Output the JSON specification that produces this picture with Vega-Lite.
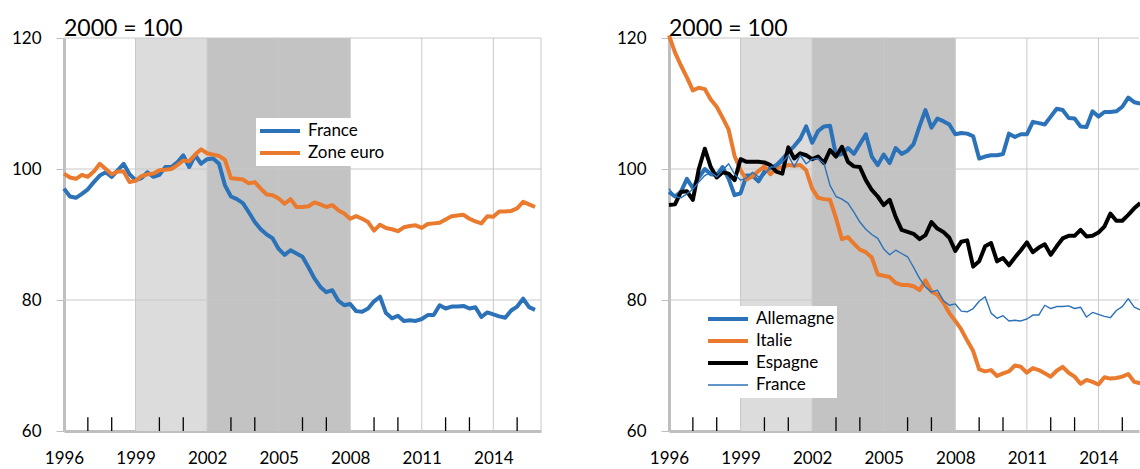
{
  "$schema": "https://vega.github.io/schema/vega-lite/v6.json",
  "background": "white",
  "padding": {"left": 11, "top": 18, "right": 0, "bottom": 0},
  "spacing": 74,
  "config": {
    "font": "Lato",
    "view": {"stroke": null},
    "axis": {"labelFont": "Lato", "labelFontSize": 17, "labelColor": "#000000", "domainColor": "#bfbfbf", "domainWidth": 3, "grid": false, "tickColor": "#bfbfbf", "title": null},
    "title": {"anchor": "start", "frame": "group", "font": "Lato", "fontSize": 23, "fontWeight": "normal", "color": "#000000", "offset": -12},
    "legend": {"orient": "none", "title": null, "symbolType": "stroke", "symbolSize": 1600, "labelFont": "Lato", "labelFontSize": 17, "labelColor": "#000000", "fillColor": "white", "padding": 2, "clipHeight": 22, "rowPadding": 0, "labelOffset": 6}
  },
  "datasets": {
    "series": [
      {"t": 1996, "France": 97.0, "Zone euro": 99.3, "Allemagne": 96.5, "Italie": 120.4, "Espagne": 94.5},
      {"t": 1996.25, "France": 95.8, "Zone euro": 98.7, "Allemagne": 95.8, "Italie": 117.8, "Espagne": 94.6},
      {"t": 1996.5, "France": 95.6, "Zone euro": 98.5, "Allemagne": 96.5, "Italie": 115.8, "Espagne": 96.5},
      {"t": 1996.75, "France": 96.2, "Zone euro": 99.1, "Allemagne": 98.5, "Italie": 114.0, "Espagne": 96.6},
      {"t": 1997, "France": 96.9, "Zone euro": 98.8, "Allemagne": 97.1, "Italie": 112.0, "Espagne": 95.3},
      {"t": 1997.25, "France": 98.0, "Zone euro": 99.6, "Allemagne": 98.7, "Italie": 112.4, "Espagne": 100.0},
      {"t": 1997.5, "France": 99.0, "Zone euro": 100.8, "Allemagne": 100.0, "Italie": 112.2, "Espagne": 103.1},
      {"t": 1997.75, "France": 99.5, "Zone euro": 100.0, "Allemagne": 99.2, "Italie": 110.6, "Espagne": 100.3},
      {"t": 1998, "France": 98.8, "Zone euro": 99.2, "Allemagne": 99.1, "Italie": 109.5, "Espagne": 98.7},
      {"t": 1998.25, "France": 99.8, "Zone euro": 99.6, "Allemagne": 100.3, "Italie": 107.8, "Espagne": 99.5},
      {"t": 1998.5, "France": 100.8, "Zone euro": 99.6, "Allemagne": 98.5, "Italie": 106.0, "Espagne": 99.3},
      {"t": 1998.75, "France": 99.2, "Zone euro": 98.0, "Allemagne": 96.0, "Italie": 102.0, "Espagne": 98.3},
      {"t": 1999, "France": 98.3, "Zone euro": 98.2, "Allemagne": 96.3, "Italie": 99.8, "Espagne": 101.5},
      {"t": 1999.25, "France": 98.6, "Zone euro": 98.9, "Allemagne": 99.0, "Italie": 98.4, "Espagne": 101.1},
      {"t": 1999.5, "France": 99.5, "Zone euro": 99.2, "Allemagne": 99.0, "Italie": 98.9, "Espagne": 101.1},
      {"t": 1999.75, "France": 98.8, "Zone euro": 99.3, "Allemagne": 98.1, "Italie": 99.7, "Espagne": 101.1},
      {"t": 2000, "France": 99.1, "Zone euro": 99.8, "Allemagne": 99.6, "Italie": 100.4, "Espagne": 101.0},
      {"t": 2000.25, "France": 100.3, "Zone euro": 99.9, "Allemagne": 100.1, "Italie": 99.2, "Espagne": 100.6},
      {"t": 2000.5, "France": 100.3, "Zone euro": 100.0, "Allemagne": 100.6, "Italie": 100.1, "Espagne": 99.6},
      {"t": 2000.75, "France": 101.0, "Zone euro": 100.6, "Allemagne": 101.5, "Italie": 100.3, "Espagne": 99.3},
      {"t": 2001, "France": 102.1, "Zone euro": 101.3, "Allemagne": 102.6, "Italie": 100.6, "Espagne": 103.3},
      {"t": 2001.25, "France": 100.3, "Zone euro": 101.2, "Allemagne": 103.5, "Italie": 100.5, "Espagne": 101.6},
      {"t": 2001.5, "France": 102.1, "Zone euro": 102.2, "Allemagne": 104.6, "Italie": 100.6, "Espagne": 102.4},
      {"t": 2001.75, "France": 100.8, "Zone euro": 103.0, "Allemagne": 106.5, "Italie": 99.8, "Espagne": 102.1},
      {"t": 2002, "France": 101.5, "Zone euro": 102.4, "Allemagne": 104.0, "Italie": 97.0, "Espagne": 101.5},
      {"t": 2002.25, "France": 101.6, "Zone euro": 102.2, "Allemagne": 105.8, "Italie": 95.6, "Espagne": 101.9},
      {"t": 2002.5, "France": 100.8, "Zone euro": 102.0, "Allemagne": 106.5, "Italie": 95.4, "Espagne": 100.9},
      {"t": 2002.75, "France": 97.5, "Zone euro": 101.4, "Allemagne": 106.6, "Italie": 95.3, "Espagne": 102.9},
      {"t": 2003, "France": 95.8, "Zone euro": 98.6, "Allemagne": 102.1, "Italie": 92.5, "Espagne": 101.9},
      {"t": 2003.25, "France": 95.4, "Zone euro": 98.5, "Allemagne": 102.3, "Italie": 89.3, "Espagne": 103.4},
      {"t": 2003.5, "France": 94.8, "Zone euro": 98.4, "Allemagne": 103.2, "Italie": 89.6, "Espagne": 101.1},
      {"t": 2003.75, "France": 93.4, "Zone euro": 97.8, "Allemagne": 102.3, "Italie": 88.6, "Espagne": 100.4},
      {"t": 2004, "France": 91.9, "Zone euro": 98.0, "Allemagne": 103.8, "Italie": 87.7, "Espagne": 100.3},
      {"t": 2004.25, "France": 90.8, "Zone euro": 97.0, "Allemagne": 105.3, "Italie": 87.3, "Espagne": 98.3},
      {"t": 2004.5, "France": 90.0, "Zone euro": 96.1, "Allemagne": 101.9, "Italie": 86.5, "Espagne": 96.8},
      {"t": 2004.75, "France": 89.4, "Zone euro": 96.0, "Allemagne": 100.6, "Italie": 83.9, "Espagne": 95.8},
      {"t": 2005, "France": 87.8, "Zone euro": 95.5, "Allemagne": 102.2, "Italie": 83.7, "Espagne": 94.5},
      {"t": 2005.25, "France": 86.9, "Zone euro": 94.7, "Allemagne": 100.9, "Italie": 83.5, "Espagne": 95.3},
      {"t": 2005.5, "France": 87.6, "Zone euro": 95.4, "Allemagne": 103.2, "Italie": 82.6, "Espagne": 92.7},
      {"t": 2005.75, "France": 87.1, "Zone euro": 94.2, "Allemagne": 102.3, "Italie": 82.3, "Espagne": 90.7},
      {"t": 2006, "France": 86.6, "Zone euro": 94.2, "Allemagne": 102.8, "Italie": 82.3, "Espagne": 90.4},
      {"t": 2006.25, "France": 85.0, "Zone euro": 94.3, "Allemagne": 103.8, "Italie": 82.1, "Espagne": 90.1},
      {"t": 2006.5, "France": 83.3, "Zone euro": 94.9, "Allemagne": 106.5, "Italie": 81.5, "Espagne": 89.3},
      {"t": 2006.75, "France": 82.0, "Zone euro": 94.6, "Allemagne": 109.0, "Italie": 83.0, "Espagne": 89.9},
      {"t": 2007, "France": 81.2, "Zone euro": 94.2, "Allemagne": 106.3, "Italie": 81.3, "Espagne": 91.9},
      {"t": 2007.25, "France": 81.5, "Zone euro": 94.5, "Allemagne": 107.7, "Italie": 80.8, "Espagne": 90.9},
      {"t": 2007.5, "France": 79.9, "Zone euro": 93.7, "Allemagne": 107.3, "Italie": 79.6, "Espagne": 90.4},
      {"t": 2007.75, "France": 79.2, "Zone euro": 93.2, "Allemagne": 106.8, "Italie": 78.0, "Espagne": 89.5},
      {"t": 2008, "France": 79.4, "Zone euro": 92.4, "Allemagne": 105.3, "Italie": 76.8, "Espagne": 87.5},
      {"t": 2008.25, "France": 78.3, "Zone euro": 92.8, "Allemagne": 105.5, "Italie": 75.5, "Espagne": 88.9},
      {"t": 2008.5, "France": 78.2, "Zone euro": 92.4, "Allemagne": 105.4, "Italie": 73.8, "Espagne": 89.1},
      {"t": 2008.75, "France": 78.7, "Zone euro": 91.9, "Allemagne": 105.0, "Italie": 72.2, "Espagne": 85.1},
      {"t": 2009, "France": 79.8, "Zone euro": 90.6, "Allemagne": 101.6, "Italie": 69.4, "Espagne": 85.9},
      {"t": 2009.25, "France": 80.5, "Zone euro": 91.5, "Allemagne": 101.9, "Italie": 69.1, "Espagne": 88.2},
      {"t": 2009.5, "France": 78.0, "Zone euro": 91.0, "Allemagne": 102.1, "Italie": 69.3, "Espagne": 88.7},
      {"t": 2009.75, "France": 77.2, "Zone euro": 90.8, "Allemagne": 102.1, "Italie": 68.4, "Espagne": 85.9},
      {"t": 2010, "France": 77.6, "Zone euro": 90.5, "Allemagne": 102.3, "Italie": 68.8, "Espagne": 86.4},
      {"t": 2010.25, "France": 76.8, "Zone euro": 91.1, "Allemagne": 105.4, "Italie": 69.1, "Espagne": 85.3},
      {"t": 2010.5, "France": 76.9, "Zone euro": 91.3, "Allemagne": 104.9, "Italie": 70.0, "Espagne": 86.5},
      {"t": 2010.75, "France": 76.8, "Zone euro": 91.4, "Allemagne": 105.3, "Italie": 69.8, "Espagne": 87.6},
      {"t": 2011, "France": 77.1, "Zone euro": 91.0, "Allemagne": 105.3, "Italie": 68.9, "Espagne": 88.8},
      {"t": 2011.25, "France": 77.7, "Zone euro": 91.6, "Allemagne": 107.2, "Italie": 69.6, "Espagne": 87.3},
      {"t": 2011.5, "France": 77.7, "Zone euro": 91.7, "Allemagne": 107.0, "Italie": 69.3, "Espagne": 88.0},
      {"t": 2011.75, "France": 79.2, "Zone euro": 91.8, "Allemagne": 106.8, "Italie": 68.8, "Espagne": 88.5},
      {"t": 2012, "France": 78.7, "Zone euro": 92.3, "Allemagne": 108.0, "Italie": 68.3, "Espagne": 86.9},
      {"t": 2012.25, "France": 79.0, "Zone euro": 92.8, "Allemagne": 109.2, "Italie": 69.2, "Espagne": 88.2},
      {"t": 2012.5, "France": 79.0, "Zone euro": 92.9, "Allemagne": 109.0, "Italie": 69.8, "Espagne": 89.4},
      {"t": 2012.75, "France": 79.1, "Zone euro": 93.0, "Allemagne": 107.8, "Italie": 68.9, "Espagne": 89.8},
      {"t": 2013, "France": 78.7, "Zone euro": 92.4, "Allemagne": 107.7, "Italie": 68.3, "Espagne": 89.8},
      {"t": 2013.25, "France": 78.9, "Zone euro": 92.0, "Allemagne": 106.5, "Italie": 67.2, "Espagne": 90.7},
      {"t": 2013.5, "France": 77.4, "Zone euro": 91.7, "Allemagne": 106.4, "Italie": 67.8, "Espagne": 89.7},
      {"t": 2013.75, "France": 78.1, "Zone euro": 92.8, "Allemagne": 108.8, "Italie": 67.5, "Espagne": 89.8},
      {"t": 2014, "France": 77.8, "Zone euro": 92.7, "Allemagne": 108.0, "Italie": 67.1, "Espagne": 90.3},
      {"t": 2014.25, "France": 77.5, "Zone euro": 93.5, "Allemagne": 108.7, "Italie": 68.2, "Espagne": 91.2},
      {"t": 2014.5, "France": 77.3, "Zone euro": 93.5, "Allemagne": 108.7, "Italie": 68.0, "Espagne": 93.2},
      {"t": 2014.75, "France": 78.4, "Zone euro": 93.6, "Allemagne": 108.8, "Italie": 68.1, "Espagne": 92.1},
      {"t": 2015, "France": 79.0, "Zone euro": 94.0, "Allemagne": 109.5, "Italie": 68.3, "Espagne": 92.1},
      {"t": 2015.25, "France": 80.2, "Zone euro": 95.0, "Allemagne": 110.9, "Italie": 68.7, "Espagne": 93.0},
      {"t": 2015.5, "France": 78.9, "Zone euro": 94.6, "Allemagne": 110.2, "Italie": 67.5, "Espagne": 94.0},
      {"t": 2015.75, "France": 78.5, "Zone euro": 94.2, "Allemagne": 110.0, "Italie": 67.3, "Espagne": 94.8}
    ],
    "zones": [
      {"debut": 1999, "fin": 2002, "zone": "a"},
      {"debut": 2002, "fin": 2008, "zone": "b"}
    ],
    "gridy": [{"v": 80}, {"v": 100}, {"v": 120}],
    "ticks": [{"an": 1997}, {"an": 1998}, {"an": 2000}, {"an": 2001}, {"an": 2003}, {"an": 2004}, {"an": 2006}, {"an": 2007}, {"an": 2009}, {"an": 2010}, {"an": 2012}, {"an": 2013}, {"an": 2015}]
  },
  "hconcat": [
    {
      "width": 477,
      "height": 393,
      "title": {"text": "2000 = 100"},
      "layer": [
        {
          "data": {"name": "zones"},
          "mark": {"type": "rect"},
          "encoding": {
            "x": {"field": "debut", "type": "quantitative"},
            "x2": {"field": "fin"},
            "y": {"datum": 60, "type": "quantitative"},
            "y2": {"datum": 120},
            "fill": {"field": "zone", "type": "nominal", "scale": {"domain": ["a", "b"], "range": ["#dcdcdc", "#c3c3c3"]}, "legend": null}
          }
        },
        {
          "data": {"values": [{"an": 1999}, {"an": 2002}, {"an": 2005}, {"an": 2008}, {"an": 2011}, {"an": 2014}, {"an": 2016}]},
          "mark": {"type": "rule", "color": "#c8c8c8", "strokeWidth": 1},
          "encoding": {"x": {"field": "an", "type": "quantitative"}, "y": {"datum": 60, "type": "quantitative"}, "y2": {"datum": 120}}
        },
        {
          "data": {"name": "gridy"},
          "mark": {"type": "rule", "color": "#c8c8c8", "strokeWidth": 1},
          "encoding": {"y": {"field": "v", "type": "quantitative"}, "x": {"datum": 1996, "type": "quantitative"}, "x2": {"datum": 2016}}
        },
        {
          "data": {"name": "ticks"},
          "mark": {"type": "rule", "color": "#000000", "strokeWidth": 1.3},
          "encoding": {"x": {"field": "an", "type": "quantitative"}, "y": {"datum": 60, "type": "quantitative"}, "y2": {"datum": 62.1}}
        },
        {
          "data": {"name": "series"},
          "transform": [{"fold": ["France", "Zone euro"], "as": ["pays", "v"]}],
          "mark": {"type": "line", "strokeWidth": 4, "strokeJoin": "round"},
          "encoding": {
            "x": {"field": "t", "type": "quantitative", "scale": {"domain": [1996, 2016], "nice": false, "zero": false},
              "axis": {"values": [1996, 1999, 2002, 2005, 2008, 2011, 2014], "format": "d", "tickSize": 0, "labelPadding": 19, "labelFlush": false, "labelOverlap": false}},
            "y": {"field": "v", "type": "quantitative", "scale": {"domain": [60, 120], "nice": false, "zero": false},
              "axis": {"values": [60, 80, 100, 120], "tickSize": 8, "labelPadding": 15}},
            "color": {"field": "pays", "type": "nominal", "scale": {"domain": ["France", "Zone euro"], "range": ["#2B72B8", "#E97A2E"]},
              "legend": {"legendX": 192, "legendY": 80, "symbolStrokeWidth": 4}}
          }
        }
      ]
    },
    {
      "width": 470,
      "height": 393,
      "title": {"text": "2000 = 100"},
      "layer": [
        {
          "data": {"name": "zones"},
          "mark": {"type": "rect"},
          "encoding": {
            "x": {"field": "debut", "type": "quantitative"},
            "x2": {"field": "fin"},
            "y": {"datum": 60, "type": "quantitative"},
            "y2": {"datum": 120},
            "fill": {"field": "zone", "type": "nominal", "scale": {"domain": ["a", "b"], "range": ["#dcdcdc", "#c3c3c3"]}, "legend": null}
          }
        },
        {
          "data": {"values": [{"an": 1999}, {"an": 2002}, {"an": 2005}, {"an": 2008}, {"an": 2011}, {"an": 2014}]},
          "mark": {"type": "rule", "color": "#c8c8c8", "strokeWidth": 1},
          "encoding": {"x": {"field": "an", "type": "quantitative"}, "y": {"datum": 60, "type": "quantitative"}, "y2": {"datum": 120}}
        },
        {
          "data": {"name": "gridy"},
          "mark": {"type": "rule", "color": "#c8c8c8", "strokeWidth": 1},
          "encoding": {"y": {"field": "v", "type": "quantitative"}, "x": {"datum": 1996, "type": "quantitative"}, "x2": {"datum": 2015.7}}
        },
        {
          "data": {"name": "ticks"},
          "mark": {"type": "rule", "color": "#000000", "strokeWidth": 1.3},
          "encoding": {"x": {"field": "an", "type": "quantitative"}, "y": {"datum": 60, "type": "quantitative"}, "y2": {"datum": 62.1}}
        },
        {
          "data": {"name": "series"},
          "transform": [{"fold": ["Allemagne", "Italie", "Espagne", "France"], "as": ["pays", "v"]}],
          "mark": {"type": "line", "strokeJoin": "round"},
          "encoding": {
            "x": {"field": "t", "type": "quantitative", "scale": {"domain": [1996, 2015.7], "nice": false, "zero": false},
              "axis": {"values": [1996, 1999, 2002, 2005, 2008, 2011, 2014], "format": "d", "tickSize": 0, "labelPadding": 19, "labelFlush": false, "labelOverlap": false}},
            "y": {"field": "v", "type": "quantitative", "scale": {"domain": [60, 120], "nice": false, "zero": false},
              "axis": {"values": [60, 80, 100, 120], "tickSize": 8, "labelPadding": 15}},
            "color": {"field": "pays", "type": "nominal", "scale": {"domain": ["Allemagne", "Italie", "Espagne", "France"], "range": ["#2B72B8", "#E97A2E", "#000000", "#2B72B8"]},
              "legend": {"legendX": 35, "legendY": 268}},
            "strokeWidth": {"field": "pays", "type": "nominal", "scale": {"type": "ordinal", "domain": ["Allemagne", "Italie", "Espagne", "France"], "range": [4, 4, 4, 1.4]},
              "legend": {"legendX": 35, "legendY": 268}}
          }
        }
      ]
    }
  ],
  "resolve": {
    "scale": {"x": "independent", "y": "independent", "color": "independent", "fill": "independent", "strokeWidth": "independent"},
    "legend": {"color": "independent", "strokeWidth": "independent"}
  }
}
